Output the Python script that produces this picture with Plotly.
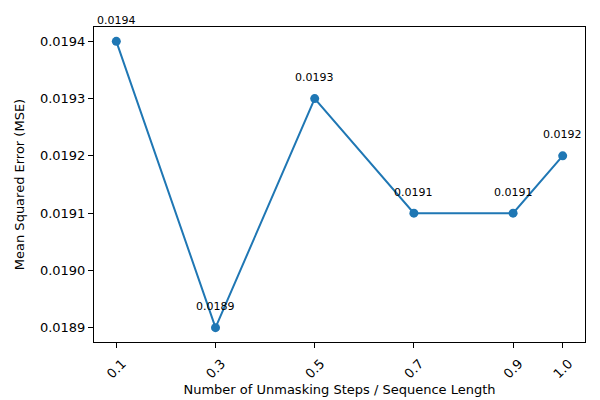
import plotly.graph_objects as go

x_vals = [0.1, 0.3, 0.5, 0.7, 0.9, 1.0]
mse_vals = [0.0194, 0.0189, 0.0193, 0.0191, 0.0191, 0.0192]
x_ticks = [0.1, 0.3, 0.5, 0.7, 0.9, 1.0]
x_tick_labels = ["0.1", "0.3", "0.5", "0.7", "0.9", "1.0"]
y_ticks = [0.0189, 0.0190, 0.0191, 0.0192, 0.0193, 0.0194]
y_tick_labels = ["0.0189", "0.0190", "0.0191", "0.0192", "0.0193", "0.0194"]
point_labels = [f"{v:.4f}" for v in mse_vals]

color = "#1f77b4"
fig = go.Figure()
fig.add_trace(go.Scatter(
    x=x_vals, y=mse_vals, mode="lines+markers",
    line=dict(color=color, width=2),
    marker=dict(color=color, size=9),
    showlegend=False, cliponaxis=False,
))
for xv, yv, lab in zip(x_vals, mse_vals, point_labels):
    fig.add_annotation(x=xv, y=yv, text=lab, showarrow=False,
                       yshift=21, font=dict(size=11, color="black"))

axis_common = dict(
    showline=True, linecolor="black", linewidth=1, mirror=True,
    ticks="outside", ticklen=5, tickcolor="black", tickwidth=1,
    showgrid=False, zeroline=False, automargin=False,
    tickfont=dict(size=13, color="black"),
)
fig.update_xaxes(range=[0.055, 1.045], tickvals=x_ticks, ticktext=x_tick_labels,
                 tickangle=-45, ticklabelshift=6, ticklabelstandoff=3,
                 title=dict(text="Number of Unmasking Steps / Sequence Length",
                            font=dict(size=13, color="black"), standoff=4),
                 **axis_common)
fig.update_yaxes(range=[0.018875, 0.019425], tickvals=y_ticks, ticktext=y_tick_labels,
                 title=dict(text="Mean Squared Error (MSE)",
                            font=dict(size=13, color="black"), standoff=12),
                 **axis_common)
fig.update_layout(
    width=600, height=400,
    margin=dict(l=94, r=15, t=27, b=58),
    plot_bgcolor="white", paper_bgcolor="white",
    font=dict(family="DejaVu Sans", color="black"),
    hovermode=False,
)
fig.write_html("out.html", config={"displayModeBar": False},
               post_script="document.body.style.margin='0';document.body.style.overflow='hidden';")
